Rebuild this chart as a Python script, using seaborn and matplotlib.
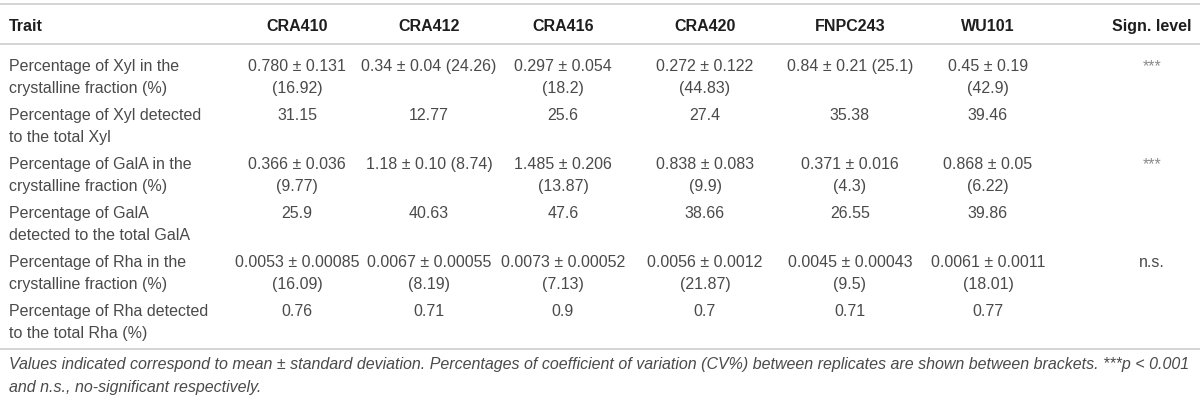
import matplotlib
matplotlib.use("Agg")
import matplotlib.pyplot as plt
import seaborn as sns

sns.set_theme(style="white")
plt.rcParams['font.family'] = ['Liberation Sans', 'DejaVu Sans']

header = ["Trait", "CRA410", "CRA412", "CRA416", "CRA420", "FNPC243", "WU101", "Sign. level"]
traits = [
    ["Percentage of Xyl in the", "crystalline fraction (%)"],
    ["Percentage of Xyl detected", "to the total Xyl"],
    ["Percentage of GalA in the", "crystalline fraction (%)"],
    ["Percentage of GalA", "detected to the total GalA"],
    ["Percentage of Rha in the", "crystalline fraction (%)"],
    ["Percentage of Rha detected", "to the total Rha (%)"],
]
cra410 = [["0.780 \u00b1 0.131", "(16.92)"], ["31.15"], ["0.366 \u00b1 0.036", "(9.77)"],
          ["25.9"], ["0.0053 \u00b1 0.00085", "(16.09)"], ["0.76"]]
cra412 = [["0.34 \u00b1 0.04 (24.26)"], ["12.77"], ["1.18 \u00b1 0.10 (8.74)"],
          ["40.63"], ["0.0067 \u00b1 0.00055", "(8.19)"], ["0.71"]]
cra416 = [["0.297 \u00b1 0.054", "(18.2)"], ["25.6"], ["1.485 \u00b1 0.206", "(13.87)"],
          ["47.6"], ["0.0073 \u00b1 0.00052", "(7.13)"], ["0.9"]]
cra420 = [["0.272 \u00b1 0.122", "(44.83)"], ["27.4"], ["0.838 \u00b1 0.083", "(9.9)"],
          ["38.66"], ["0.0056 \u00b1 0.0012", "(21.87)"], ["0.7"]]
fnpc243 = [["0.84 \u00b1 0.21 (25.1)"], ["35.38"], ["0.371 \u00b1 0.016", "(4.3)"],
           ["26.55"], ["0.0045 \u00b1 0.00043", "(9.5)"], ["0.71"]]
wu101 = [["0.45 \u00b1 0.19", "(42.9)"], ["39.46"], ["0.868 \u00b1 0.05", "(6.22)"],
         ["39.86"], ["0.0061 \u00b1 0.0011", "(18.01)"], ["0.77"]]
sign_level = [["***"], [""], ["***"], [""], ["n.s."], [""]]
footnote = [
    "Values indicated correspond to mean \u00b1 standard deviation. Percentages of coefficient of variation (CV%) "
    "between replicates are shown between brackets. ***p < 0.001",
    "and n.s., no-significant respectively.",
]

columns = [cra410, cra412, cra416, cra420, fnpc243, wu101, sign_level]
col_x = [297, 429, 563, 705, 850, 988, 1152]

fig = plt.figure(figsize=(12, 4.02), dpi=100)
ax = fig.add_axes([0, 0, 1, 1])
ax.set_xlim(0, 1200)
ax.set_ylim(402, 0)
ax.axis("off")

line_c = "#d4d4d4"
txt_c = "#4a4a4a"
fs = 11.5

for yy in [5, 45, 350]:
    ax.axhline(yy, color=line_c, lw=1.4)

ax.text(9, 31, header[0], ha="left", va="baseline", fontsize=fs, fontweight="bold", color="#1e1e1e")
for x, h in zip(col_x, header[1:]):
    ax.text(x, 31, h, ha="center", va="baseline", fontsize=fs, fontweight="bold", color="#1e1e1e")

# baselines of the first line of each row
row_y0, row_h, line_h = 71, 49, 22
for i, tr in enumerate(traits):
    y = row_y0 + i * row_h
    for k, s in enumerate(tr):
        ax.text(9, y + k * line_h, s, ha="left", va="baseline", fontsize=fs, color=txt_c)
    for x, col in zip(col_x, columns):
        for k, s in enumerate(col[i]):
            c = "#8c8c8c" if s == "***" else txt_c
            ax.text(x, y + k * line_h, s, ha="center", va="baseline", fontsize=fs, color=c)

for k, s in enumerate(footnote):
    ax.text(9, 369 + k * 23, s, ha="left", va="baseline", fontsize=11.55, style="italic", color=txt_c)

fig.savefig("out.png", dpi=100)
